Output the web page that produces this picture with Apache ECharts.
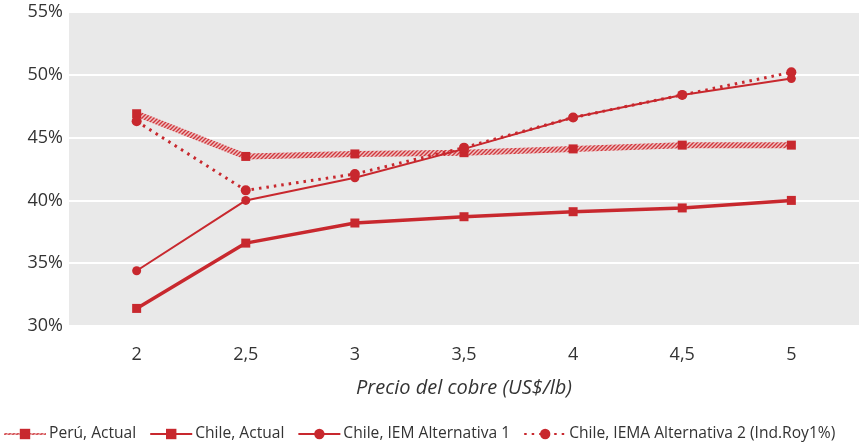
<!DOCTYPE html>
<html>
<head>
<meta charset="utf-8">
<script src="https://cdn.jsdelivr.net/npm/echarts@6/dist/echarts.min.js"></script>
<style>
  html, body { margin: 0; padding: 0; background: #ffffff; }
  #chart { width: 859px; height: 443px; }
</style>
</head>
<body>
<div id="chart"></div>
<script>
// Copper price (US$/lb) and effective tax burden (%)
const precios = [2, 2.5, 3, 3.5, 4, 4.5, 5];
const peruActual = [46.9, 43.5, 43.7, 43.8, 44.1, 44.4, 44.4];
const chileActual = [31.4, 36.6, 38.2, 38.7, 39.1, 39.4, 40.0];
const chileAlt1 = [34.4, 40.0, 41.8, 44.1, 46.6, 48.4, 49.7];
const chileAlt2 = [46.3, 40.8, 42.1, 44.2, 46.6, 48.4, 50.2];
const yTicks = [30, 35, 40, 45, 50, 55];
const nombres = ['Perú, Actual', 'Chile, Actual', 'Chile, IEM Alternativa 1', 'Chile, IEMA Alternativa 2 (Ind.Roy1%)'];

const rojo = '#c8282e';

// diagonal hatch used for the Peru line
function hatch() {
  const c = document.createElement('canvas');
  c.width = 4; c.height = 4;
  const g = c.getContext('2d');
  g.fillStyle = '#efc3c4';
  g.fillRect(0, 0, 4, 4);
  g.strokeStyle = '#d0383d';
  g.lineWidth = 1.4;
  g.beginPath();
  g.moveTo(-1, 5); g.lineTo(5, -1);
  g.moveTo(-1, 1); g.lineTo(1, -1);
  g.moveTo(3, 5); g.lineTo(5, 3);
  g.stroke();
  return c;
}

const pairs = arr => precios.map((p, i) => [p, arr[i]]);
const font = '"Open Sans", Lato, sans-serif';

const chart = echarts.init(document.getElementById('chart'), null, { renderer: 'canvas' });
chart.setOption({
  animation: false,
  textStyle: { fontFamily: font },
  grid: {
    left: 69, right: 0, top: 12, bottom: 117,
    show: true, backgroundColor: '#e9e9e9', borderWidth: 0
  },
  xAxis: {
    type: 'value',
    min: 1.69, max: 5.31,
    name: 'Precio del cobre (US$/lb)',
    nameLocation: 'middle',
    nameGap: 52,
    nameTextStyle: { fontStyle: 'italic', fontSize: 20, color: '#333', fontFamily: font },
    axisLine: { show: false },
    axisTick: { show: false },
    splitLine: { show: false },
    axisLabel: {
      customValues: precios,
      margin: 20,
      fontSize: 18,
      color: '#333',
      fontFamily: font,
      formatter: v => String(v).replace('.', ',')
    }
  },
  yAxis: {
    type: 'value',
    min: yTicks[0], max: yTicks[yTicks.length - 1], interval: 5,
    axisLine: { show: false },
    axisTick: { show: false },
    splitLine: { show: true, lineStyle: { color: '#ffffff', width: 2 } },
    axisLabel: { fontSize: 18, color: '#333', margin: 6, fontFamily: font, formatter: v => v + '%' }
  },
  legend: {
    left: 3, bottom: 1, padding: 0,
    itemWidth: 42, itemHeight: 13, itemGap: 13,
    textStyle: { fontSize: 15.6, color: '#333', fontFamily: font, padding: [0, 0, 0, -2] },
    data: nombres
  },
  series: [
    {
      name: nombres[0], type: 'line', data: pairs(peruActual),
      symbol: 'rect', symbolSize: 9,
      lineStyle: { width: 6, color: { image: hatch(), repeat: 'repeat' } },
      itemStyle: { color: rojo }
    },
    {
      name: nombres[1], type: 'line', data: pairs(chileActual),
      symbol: 'rect', symbolSize: 9,
      lineStyle: { width: 3.5, color: rojo },
      itemStyle: { color: rojo }
    },
    {
      name: nombres[2], type: 'line', data: pairs(chileAlt1),
      symbol: 'circle', symbolSize: 9,
      lineStyle: { width: 2, color: rojo },
      itemStyle: { color: rojo }
    },
    {
      name: nombres[3], type: 'line', data: pairs(chileAlt2),
      symbol: 'circle', symbolSize: 10,
      lineStyle: { width: 3, color: rojo, type: [2.5, 5] },
      itemStyle: { color: rojo }
    }
  ]
});
</script>
</body>
</html>
